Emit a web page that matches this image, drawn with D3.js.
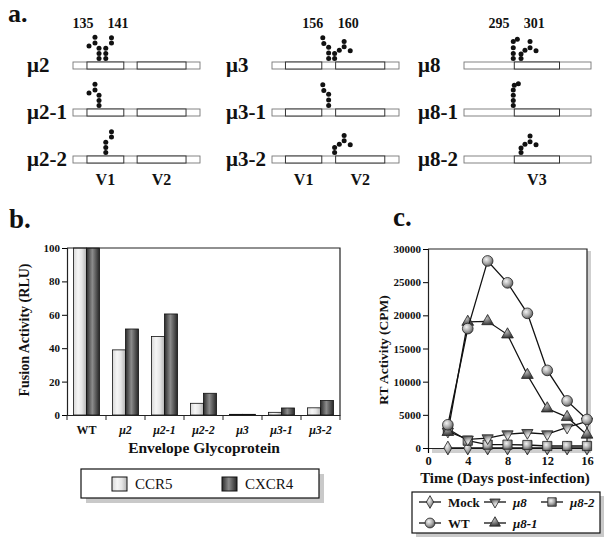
<!DOCTYPE html>
<html lang="en">
<head>
<meta charset="UTF-8">
<title>Envelope glycoprotein mutants</title>
<script src="https://d3js.org/d3.v7.min.js"></script>
<style>
  body { margin: 0; background: #fff; }
  svg { font-family: "Liberation Serif", "Times New Roman", serif; }
  text { font-weight: bold; fill: #111; }
</style>
</head>
<body>
<svg id="fig" width="610" height="546"></svg>
<script>
// ---- panel a: schematic ----
const rowLabelsA = [["μ2", "μ2-1", "μ2-2"], ["μ3", "μ3-1", "μ3-2"], ["μ8", "μ8-1", "μ8-2"]];
const residueNums = [["135", "141"], ["156", "160"], ["295", "301"]];
const residueNumPos = [[7.9, 35.4], [32, 60], [27.5, 55.4]];   // along the gene (0-100)
const regionNames = [["V1", "V2"], ["V1", "V2"], ["V3"]];
const regionSpans = [[[11, 40], [50.5, 89]], [[10.6, 39.2], [50.1, 88.8]], [[39.6, 75.2]]];
// dots: [position along gene, stack level]
const dotsMu2   = [[20.5,0],[20.5,1],[20.5,2],[17.3,3],[17.3,4.1],[12.6,2.4],[25.8,0],[25.8,1],[25.8,2],[30.3,3],[30.3,4]];
const dotsMu2_1 = [[20.5,0],[20.5,1],[20.5,2],[17.3,3],[17.3,4.1],[12.6,2.4]];
const dotsMu2_2 = [[25.8,0],[25.8,1],[25.8,2],[30.3,3],[30.3,4]];
const dotsMu3   = [[44.6,0],[44.6,1.1],[44.6,2.2],[40.8,2.9],[40.0,4.0],[49.3,0],[49.3,1],[53.0,1.6],[56.8,2.3],[56.8,3.3],[61.6,1.5]];
const dotsMu3_1 = [[44.6,0],[44.6,1.1],[44.6,2.2],[40.8,2.9],[40.0,4.0]];
const dotsMu3_2 = [[49.3,0],[49.3,1],[53.0,1.6],[56.8,2.3],[56.8,3.3],[61.6,1.5]];
const dotsMu8   = [[38.8,0],[38.8,1],[38.8,2.1],[38.8,3.3],[42.0,3.7],[44.9,0],[44.9,0.9],[48.0,1.6],[52.0,2.1],[52.0,3.3],[56.7,1.5]];
const dotsMu8_1 = [[38.8,0],[38.8,1],[38.8,2],[38.8,3],[39.6,3.9],[42.8,4.2]];
const dotsMu8_2 = [[44.9,0],[44.9,0.9],[48.0,1.6],[52.0,2.1],[52.0,3.2],[56.7,1.5]];
const dotsA = [[dotsMu2, dotsMu2_1, dotsMu2_2], [dotsMu3, dotsMu3_1, dotsMu3_2], [dotsMu8, dotsMu8_1, dotsMu8_2]];

// ---- panel b: fusion activity ----
const envelopes = ["WT", "μ2", "μ2-1", "μ2-2", "μ3", "μ3-1", "μ3-2"];
const coreceptors = ["CCR5", "CXCR4"];
const fusionCCR5 = [100, 39, 47, 7, 0.4, 1.6, 4.3];
const fusionCXCR4 = [100, 51.5, 60.5, 13, 0.4, 4.2, 8.7];
const fusionTicks = [0, 20, 40, 60, 80, 100];

// ---- panel c: RT activity ----
const days = [2, 4, 6, 8, 10, 12, 14, 16];
const rtMock = [0, 0, 0, 0, 0, 0, 0, 0];
const rtWT   = [3500, 18000, 28200, 24900, 20300, 11700, 7100, 4300];
const rtMu8  = [2500, 1300, 1500, 2100, 2300, 2100, 3100, 4000];
const rtMu8_1 = [2400, 19000, 19100, 17100, 11000, 5950, 4650, 2000];
const rtMu8_2 = [2900, 1100, 500, 500, 450, 300, 300, 300];
const dayTicks = [0, 4, 8, 12, 16];
const rtTicks = [0, 5000, 10000, 15000, 20000, 25000, 30000];

const svg = d3.select("#fig");
const defs = svg.append("defs");

function linGrad(id, stops) {
    const g = defs.append("linearGradient").attr("id", id)
        .attr("x1", "0%").attr("x2", "100%").attr("y1", "0%").attr("y2", "0%");
    stops.forEach(s => g.append("stop").attr("offset", s[0]).attr("stop-color", s[1]));
}
function radGrad(id, stops) {
    const g = defs.append("radialGradient").attr("id", id)
        .attr("cx", "38%").attr("cy", "35%").attr("r", "65%");
    stops.forEach(s => g.append("stop").attr("offset", s[0]).attr("stop-color", s[1]));
}
linGrad("gCCR5", [["0%", "#d8d8d8"], ["35%", "#f6f6f6"], ["65%", "#e6e6e6"], ["100%", "#b4b4b4"]]);
linGrad("gCXCR4", [["0%", "#2c2c2c"], ["45%", "#8c8c8c"], ["100%", "#262626"]]);
radGrad("mkLight", [["0%", "#f4f4f4"], ["60%", "#a8a8a8"], ["100%", "#606060"]]);
radGrad("mkDark", [["0%", "#bdbdbd"], ["60%", "#6e6e6e"], ["100%", "#3a3a3a"]]);

// ================= a =================
svg.append("text").attr("x", 8).attr("y", 22).style("font-size", "26px").text("a.");

const groupLeft = [73, 272, 464];
const barWidth = 127;
const rowTop = [62, 109, 156];
const levelY = d3.scaleLinear().domain([0, 5]).range([-3.4, -3.4 - 5 * 5.2]);

groupLeft.forEach((left, gi) => {
    const gx = d3.scaleLinear().domain([0, 100]).range([left, left + barWidth]);
    const g = svg.append("g");

    residueNums[gi].forEach((n, k) => {
        g.append("text").attr("x", gx(residueNumPos[gi][k])).attr("y", 28)
            .attr("text-anchor", "middle").style("font-size", "14px").text(n);
    });

    rowLabelsA[gi].forEach((lab, ri) => {
        const top = rowTop[ri];
        g.append("text").attr("x", left - 46).attr("y", top + 10)
            .style("font-size", "21px").text(lab);
        g.append("rect").attr("x", gx(0)).attr("y", top)
            .attr("width", gx(100) - gx(0)).attr("height", 7)
            .attr("fill", "#fff").attr("stroke", "#777").attr("stroke-width", 0.9);
        regionSpans[gi].forEach(s => {
            g.append("rect").attr("x", gx(s[0])).attr("y", top)
                .attr("width", gx(s[1]) - gx(s[0])).attr("height", 7)
                .attr("fill", "#fff").attr("stroke", "#333").attr("stroke-width", 1);
        });
        g.selectAll(null).data(dotsA[gi][ri]).join("circle")
            .attr("cx", d => gx(d[0]))
            .attr("cy", d => top + levelY(d[1]))
            .attr("r", 2.5).attr("fill", "#111");
    });

    regionSpans[gi].forEach((s, k) => {
        g.append("text").attr("x", gx((s[0] + s[1]) / 2)).attr("y", 185)
            .attr("text-anchor", "middle").style("font-size", "16px").text(regionNames[gi][k]);
    });
});

// ================= b =================
svg.append("text").attr("x", 9).attr("y", 228).style("font-size", "27px").text("b.");

const bx = d3.scaleBand().domain(envelopes).range([67, 340]).paddingInner(1 / 3).paddingOuter(1 / 6);
const bx1 = d3.scaleBand().domain(coreceptors).range([0, bx.bandwidth()]);
const by = d3.scaleLinear().domain([0, 100]).range([415, 248]);
const gb = svg.append("g");

const barRows = envelopes.map((e, i) => ({ env: e, CCR5: fusionCCR5[i], CXCR4: fusionCXCR4[i] }));
gb.selectAll("g.grp").data(barRows).join("g").attr("class", "grp")
    .attr("transform", d => `translate(${bx(d.env)},0)`)
    .selectAll("rect").data(d => coreceptors.map(c => ({ key: c, v: d[c] }))).join("rect")
    .attr("x", d => bx1(d.key)).attr("width", bx1.bandwidth())
    .attr("y", d => by(d.v)).attr("height", d => by(0) - by(d.v))
    .attr("fill", d => d.key === "CCR5" ? "url(#gCCR5)" : "url(#gCXCR4)")
    .attr("stroke", "#111").attr("stroke-width", 0.8);

// frame
gb.append("path").attr("d", `M67,${by(100)}H340V${by(0)}`).attr("fill", "none").attr("stroke", "#222").attr("stroke-width", 1.2);

const yAxisB = gb.append("g").attr("transform", "translate(67,0)")
    .call(d3.axisLeft(by).tickValues(fusionTicks).tickSize(5).tickPadding(2));
yAxisB.select(".domain").attr("stroke", "#222").attr("stroke-width", 1.2);
yAxisB.selectAll("text").style("font-size", "11px").style("font-family", "Liberation Serif").style("font-weight", "bold");

const xAxisB = gb.append("g").attr("transform", `translate(0,${by(0)})`)
    .call(d3.axisBottom(bx).tickSize(0).tickPadding(10));
xAxisB.select(".domain").attr("stroke", "#222").attr("stroke-width", 1.2);
xAxisB.selectAll("text").style("font-size", "12px").style("font-family", "Liberation Serif")
    .style("font-weight", "bold").style("font-style", d => d === "WT" ? "normal" : "italic");
// category boundary ticks
const bounds = envelopes.map(e => bx(e) - bx.step() * bx.paddingInner() / 2).concat([340]);
gb.selectAll("line.bt").data(bounds).join("line").attr("class", "bt")
    .attr("x1", d => d).attr("x2", d => d).attr("y1", by(0)).attr("y2", by(0) + 5)
    .attr("stroke", "#222").attr("stroke-width", 1);

gb.append("text").attr("transform", "translate(29,330) rotate(-90)")
    .attr("text-anchor", "middle").style("font-size", "14px").text("Fusion Activity (RLU)");
gb.append("text").attr("x", 204).attr("y", 453)
    .attr("text-anchor", "middle").style("font-size", "15.5px").text("Envelope Glycoprotein");

// legend b
const lb = svg.append("g");
lb.append("rect").attr("x", 86).attr("y", 474).attr("width", 238).attr("height", 29).attr("fill", "#c9c9c9");
lb.append("rect").attr("x", 81).attr("y", 469).attr("width", 238).attr("height", 29)
    .attr("fill", "#fff").attr("stroke", "#111").attr("stroke-width", 1.2);
coreceptors.forEach((c, i) => {
    const x0 = [112, 222][i];
    lb.append("rect").attr("x", x0).attr("y", 477).attr("width", 15).attr("height", 14)
        .attr("fill", c === "CCR5" ? "url(#gCCR5)" : "url(#gCXCR4)").attr("stroke", "#111");
    lb.append("text").attr("x", x0 + 23).attr("y", 489).style("font-size", "15px")
        .style("font-weight", "normal").text(c);
});

// ================= c =================
svg.append("text").attr("x", 393).attr("y", 226).style("font-size", "27px").text("c.");

const cx = d3.scaleLinear().domain([0, 16]).range([428, 587]);
const cy = d3.scaleLinear().domain([0, 30000]).range([448, 249]);
const gc = svg.append("g");

// plot shadow + frame
gc.append("rect").attr("x", cx(0) + 4).attr("y", cy(30000) + 2).attr("width", cx(16) - cx(0)).attr("height", cy(0) - cy(30000) + 3)
    .attr("fill", "#cfcfcf");
gc.append("rect").attr("x", cx(0)).attr("y", cy(30000)).attr("width", cx(16) - cx(0)).attr("height", cy(0) - cy(30000))
    .attr("fill", "#fff");
gc.append("path").attr("d", `M${cx(0)},${cy(30000)}H${cx(16)}V${cy(0)}`).attr("fill", "none").attr("stroke", "#222").attr("stroke-width", 1.2);

const yAxisC = gc.append("g").attr("transform", `translate(${cx(0)},0)`)
    .call(d3.axisLeft(cy).tickValues(rtTicks).tickSize(5).tickPadding(2).tickFormat(d3.format("d")));
yAxisC.select(".domain").attr("stroke", "#222").attr("stroke-width", 1.2);
yAxisC.selectAll("text").style("font-size", "11px").style("font-family", "Liberation Serif").style("font-weight", "bold");

const xAxisC = gc.append("g").attr("transform", `translate(0,${cy(0)})`)
    .call(d3.axisBottom(cx).tickValues(dayTicks).tickSize(5).tickPadding(3));
xAxisC.select(".domain").attr("stroke", "#222").attr("stroke-width", 1.2);
xAxisC.selectAll("text").style("font-size", "12.5px").style("font-family", "Liberation Serif").style("font-weight", "bold");

gc.append("text").attr("transform", "translate(388,350) rotate(-90)")
    .attr("text-anchor", "middle").style("font-size", "13.5px").text("RT Activity (CPM)");
gc.append("text").attr("x", 505).attr("y", 483)
    .attr("text-anchor", "middle").style("font-size", "15px").text("Time (Days post-infection)");

const seriesC = [
    { name: "Mock", vals: rtMock, sym: d3.symbolDiamond, size: 55, rot: 0, fill: "url(#mkLight)" },
    { name: "μ8-2", vals: rtMu8_2, sym: d3.symbolSquare, size: 85, rot: 0, fill: "url(#mkLight)" },
    { name: "μ8", vals: rtMu8, sym: d3.symbolTriangle, size: 55, rot: 180, fill: "url(#mkLight)" },
    { name: "μ8-1", vals: rtMu8_1, sym: d3.symbolTriangle, size: 60, rot: 0, fill: "url(#mkDark)" },
    { name: "WT", vals: rtWT, sym: d3.symbolCircle, size: 90, rot: 0, fill: "url(#mkLight)" }
];
const line = d3.line().x(d => cx(d[0])).y(d => cy(d[1]));

seriesC.forEach(s => {
    const pts = days.map((d, i) => [d, s.vals[i]]);
    gc.append("path").datum(pts).attr("d", line)
        .attr("fill", "none").attr("stroke", "#111").attr("stroke-width", 1.3);
    gc.selectAll(null).data(pts).join("path")
        .attr("transform", d => `translate(${cx(d[0])},${cy(d[1])}) rotate(${s.rot})`)
        .attr("d", d3.symbol(s.sym, s.size))
        .attr("fill", s.fill).attr("stroke", "#222").attr("stroke-width", 0.8);
});

// legend c
const lc = svg.append("g");
lc.append("rect").attr("x", 416).attr("y", 496).attr("width", 188).attr("height", 41).attr("fill", "#c9c9c9");
lc.append("rect").attr("x", 412).attr("y", 492).attr("width", 188).attr("height", 41)
    .attr("fill", "#fff").attr("stroke", "#111").attr("stroke-width", 1.2);
const legendOrder = ["Mock", "μ8", "μ8-2", "WT", "μ8-1"];
const legendPos = [[430, 502], [495, 502], [552, 502], [430, 523], [495, 523]];
legendOrder.forEach((name, i) => {
    const s = seriesC.find(d => d.name === name);
    const [mx, my] = legendPos[i];
    lc.append("line").attr("x1", mx - 11).attr("x2", mx + 11).attr("y1", my).attr("y2", my)
        .attr("stroke", "#111").attr("stroke-width", 1.3);
    lc.append("path").attr("transform", `translate(${mx},${my}) rotate(${s.rot})`)
        .attr("d", d3.symbol(s.sym, s.size * 0.85))
        .attr("fill", s.fill).attr("stroke", "#222").attr("stroke-width", 0.8);
    lc.append("text").attr("x", mx + 18).attr("y", my + 4.5).style("font-size", "13px")
        .style("font-style", name.startsWith("μ") ? "italic" : "normal").text(name);
});
</script>
</body>
</html>
